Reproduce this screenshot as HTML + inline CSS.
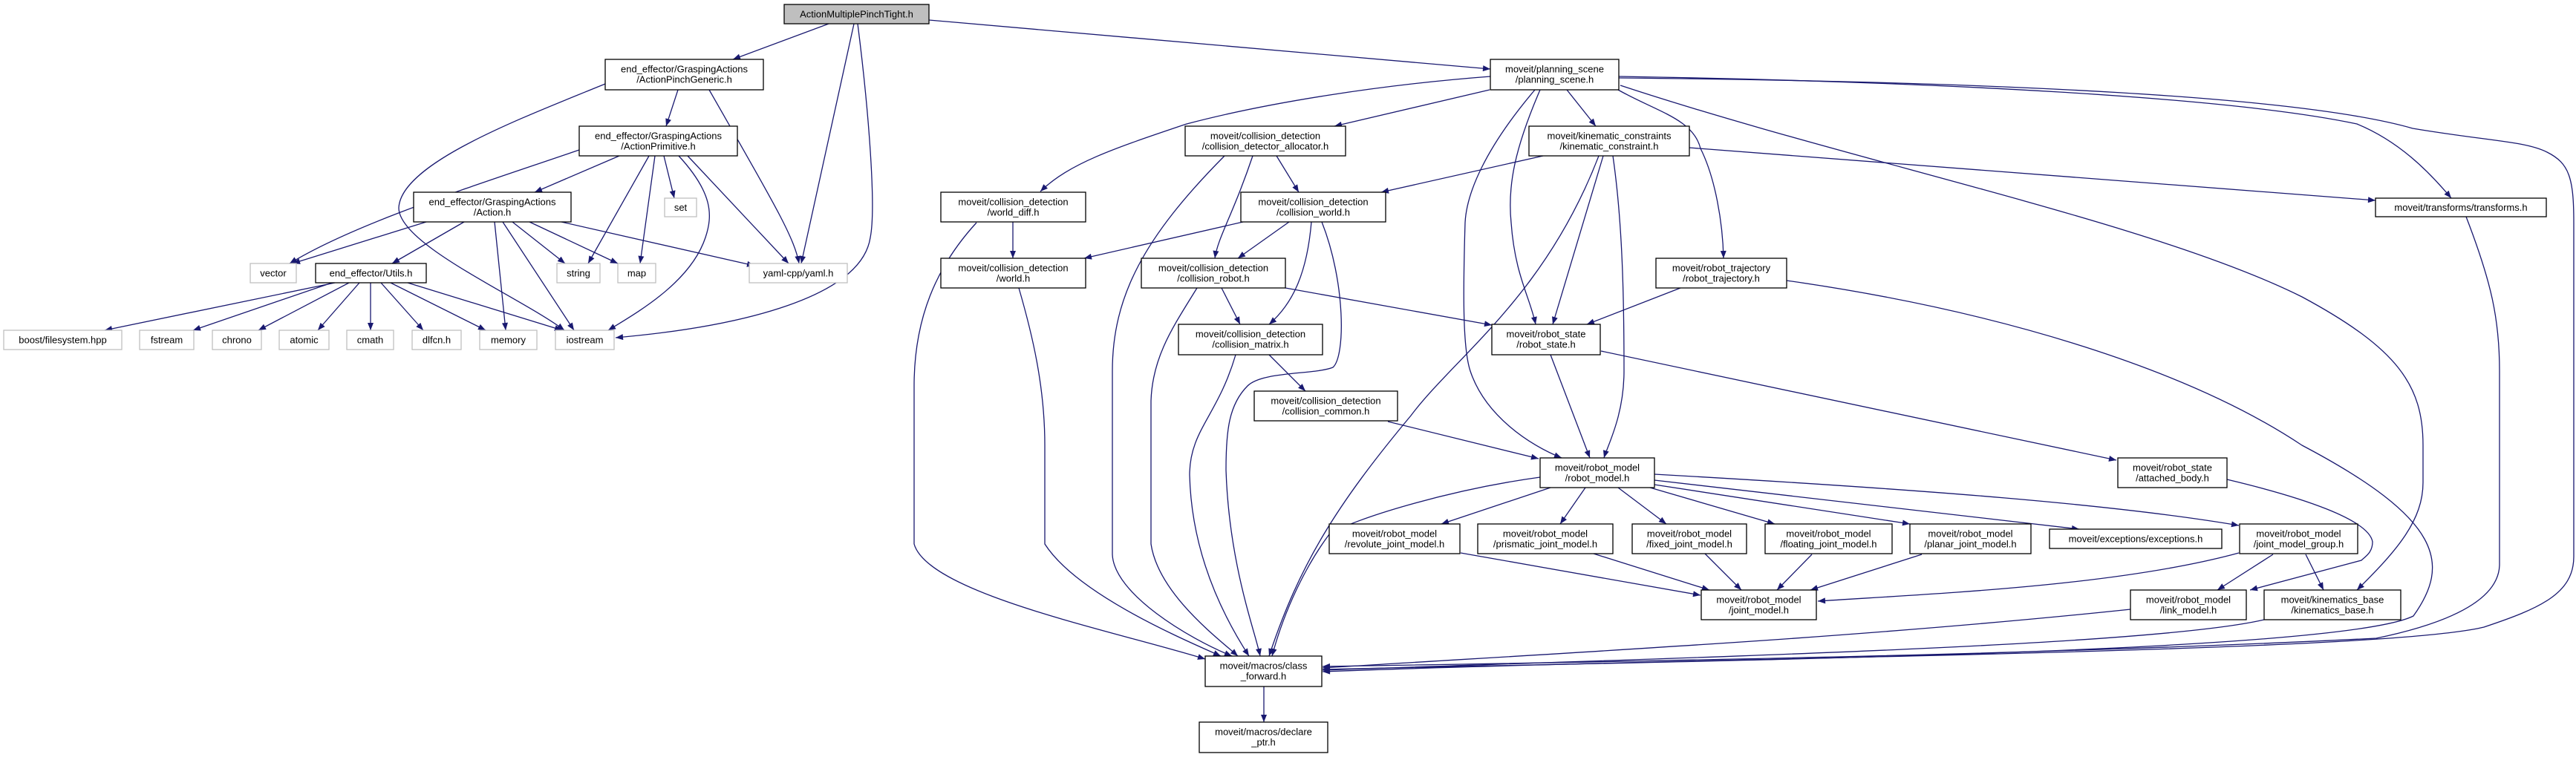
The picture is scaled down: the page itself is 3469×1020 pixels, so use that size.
<!DOCTYPE html>
<html><head><meta charset="utf-8"><style>
html,body{margin:0;padding:0;background:#fff;}
svg{display:block;}
text{font-family:"Liberation Sans",sans-serif;font-size:13px;fill:#000;text-anchor:middle;}
.e{fill:none;stroke:#191970;stroke-width:1.3;marker-end:url(#a);}
.n{fill:#fff;stroke:#000;stroke-width:1.3;}
.g{fill:#fff;stroke:#bfbfbf;stroke-width:1.3;}
</style></head><body>
<svg width="3469" height="1020" viewBox="0 0 3469 1020" xmlns="http://www.w3.org/2000/svg">
<defs><marker id="a" viewBox="0 0 10 8" refX="10" refY="4" markerWidth="11" markerHeight="8" markerUnits="userSpaceOnUse" orient="auto"><path d="M0,0 L10,4 L0,8 z" fill="#191970"/></marker></defs>

<!-- edges -->
<path class="e" d="M1116,32 L987,80"/>
<path class="e" d="M1150,32 L1079,355"/>
<path class="e" d="M1155,32 C1170,150 1180,280 1172,320 C1160,400 1000,440 829,455"/>
<path class="e" d="M1251,27 L2007,93"/>
<path class="e" d="M913,121 L897,170"/>
<path class="e" d="M955,121 C1040,270 1070,320 1076,355"/>
<path class="e" d="M815,113 C700,160 540,220 537,280 C537,330 700,400 760,445"/>
<path class="e" d="M834,210 L720,259"/>
<path class="e" d="M780,202 C640,250 480,300 390,355"/>
<path class="e" d="M874,210 L792,355"/>
<path class="e" d="M882,210 L862,355"/>
<path class="e" d="M894,210 L908,267"/>
<path class="e" d="M914,210 C960,260 960,290 950,320 C930,380 860,420 819,445"/>
<path class="e" d="M926,210 L1062,355"/>
<path class="e" d="M574,299 L394,355"/>
<path class="e" d="M625,299 L528,355"/>
<path class="e" d="M666,299 L681,445"/>
<path class="e" d="M677,299 L773,445"/>
<path class="e" d="M690,299 L761,355"/>
<path class="e" d="M713,299 L832,355"/>
<path class="e" d="M756,299 L1016,358"/>
<path class="e" d="M451,381 L141,445"/>
<path class="e" d="M447,381 L260,445"/>
<path class="e" d="M470,381 L348,445"/>
<path class="e" d="M484,381 L428,445"/>
<path class="e" d="M499,381 L499,445"/>
<path class="e" d="M513,381 L570,445"/>
<path class="e" d="M526,381 L654,445"/>
<path class="e" d="M549,381 L757,445"/>

<path class="e" d="M2006,121 L1797,170"/>
<path class="e" d="M2007,103 C1850,115 1700,140 1598,167 C1500,200 1440,220 1401,258"/>
<path class="e" d="M2110,121 L2149,170"/>
<path class="e" d="M2074,121 C2040,200 2030,250 2035,300 C2040,370 2060,400 2068,437"/>
<path class="e" d="M2067,121 C2000,200 1975,260 1973,300 C1970,400 1970,470 1980,500 C2000,560 2060,600 2103,617"/>
<path class="e" d="M2179,121 C2230,150 2280,160 2290,200 C2310,240 2320,300 2321,348"/>
<path class="e" d="M2182,115 C2500,220 2900,300 3100,400 C3230,470 3263,520 3263,600 L3263,650 C3263,700 3230,740 3174,795"/>
<path class="e" d="M2180,103 C2600,110 3000,130 3174,167 C3230,190 3270,230 3301,267"/>
<path class="e" d="M2180,105 C2700,110 3100,130 3249,173 C3350,190 3400,190 3430,205 C3460,220 3466,240 3466,300 L3466,750 C3466,800 3420,820 3345,845 C3200,880 2300,885 1781,905"/>
<path class="e" d="M1719,210 L1749,259"/>
<path class="e" d="M1687,210 C1660,290 1640,320 1636,348"/>
<path class="e" d="M1649,210 C1540,320 1498,400 1498,500 L1498,747 C1500,800 1600,860 1659,884"/>
<path class="e" d="M2078,210 L1860,259"/>
<path class="e" d="M2159,210 L2091,437"/>
<path class="e" d="M2153,210 C2080,400 1960,480 1900,560 C1800,680 1750,760 1709,884"/>
<path class="e" d="M2172,210 C2185,300 2187,400 2187,500 C2187,560 2165,600 2160,617"/>
<path class="e" d="M2275,199 L3199,270"/>
<path class="e" d="M1364,299 L1364,348"/>
<path class="e" d="M1315,300 C1260,360 1231,430 1231,520 L1231,733 C1250,800 1500,850 1623,888"/>
<path class="e" d="M1674,299 L1460,348"/>
<path class="e" d="M1736,299 L1667,348"/>
<path class="e" d="M1766,299 C1760,370 1740,410 1709,437"/>
<path class="e" d="M1780,299 C1812,380 1812,480 1795,495 C1770,505 1700,500 1680,520 C1655,545 1651,580 1651,633 C1655,760 1690,850 1697,884"/>
<path class="e" d="M1645,388 L1670,437"/>
<path class="e" d="M1731,388 L2009,438"/>
<path class="e" d="M1612,388 C1580,440 1552,480 1550,540 L1550,733 C1560,800 1640,860 1667,884"/>
<path class="e" d="M1372,388 C1390,450 1407,520 1407,600 L1407,733 C1450,800 1590,860 1644,884"/>
<path class="e" d="M1709,478 L1758,527"/>
<path class="e" d="M1664,478 C1640,560 1602,580 1602,640 C1605,760 1660,850 1682,884"/>
<path class="e" d="M2263,388 L2137,437"/>
<path class="e" d="M2406,378 C2700,420 2950,500 3100,600 C3290,700 3300,760 3250,830 C3150,880 2300,890 1781,902"/>
<path class="e" d="M3321,292 C3355,380 3366,430 3366,500 L3366,760 C3366,800 3320,835 3200,860 C2800,880 2300,890 1781,898"/>
<path class="e" d="M2088,478 L2141,617"/>
<path class="e" d="M2156,473 L2850,620"/>
<path class="e" d="M1869,568 L2072,618"/>
<path class="e" d="M2074,643 C1950,660 1820,700 1790,720 C1760,760 1730,820 1713,884"/>
<path class="e" d="M2088,657 L1941,706"/>
<path class="e" d="M2135,657 L2101,706"/>
<path class="e" d="M2179,657 L2244,706"/>
<path class="e" d="M2222,657 L2390,706"/>
<path class="e" d="M2228,653 L2572,706"/>
<path class="e" d="M2228,647 L2800,713"/>
<path class="e" d="M2228,639 C2600,660 2850,680 3015,708"/>
<path class="e" d="M1967,745 L2290,802"/>
<path class="e" d="M2146,746 L2302,795"/>
<path class="e" d="M2296,746 L2345,795"/>
<path class="e" d="M2440,747 L2393,795"/>
<path class="e" d="M2588,747 L2438,795"/>
<path class="e" d="M3015,745 C2850,790 2600,800 2448,810"/>
<path class="e" d="M3061,747 L2986,795"/>
<path class="e" d="M3105,747 L3129,795"/>
<path class="e" d="M2999,646 C3100,670 3190,700 3195,730 C3195,745 3185,750 3180,755 L3030,795"/>
<path class="e" d="M2869,821 C2500,860 2100,880 1781,900"/>
<path class="e" d="M3049,835 C2900,870 2300,885 1781,903"/>
<path class="e" d="M1702,925 L1702,973"/>

<!-- nodes -->
<rect x="1056" y="6" width="195" height="26" fill="#bfbfbf" stroke="#000" stroke-width="1.3"/><text x="1153.5" y="23.5">ActionMultiplePinchTight.h</text>

<rect class="n" x="815" y="80" width="213" height="41"/><text x="921.5" y="97.5">end_effector/GraspingActions</text><text x="921.5" y="111.5">/ActionPinchGeneric.h</text>
<rect class="n" x="780" y="170" width="213" height="40"/><text x="886.5" y="187.5">end_effector/GraspingActions</text><text x="886.5" y="201.5">/ActionPrimitive.h</text>
<rect class="n" x="557" y="259" width="212" height="40"/><text x="663" y="276.5">end_effector/GraspingActions</text><text x="663" y="290.5">/Action.h</text>
<rect class="g" x="337" y="355" width="62" height="26"/><text x="368" y="372.5">vector</text>
<rect class="n" x="425" y="355" width="149" height="26"/><text x="499.5" y="372.5">end_effector/Utils.h</text>
<rect class="g" x="750" y="355" width="58" height="26"/><text x="779" y="372.5">string</text>
<rect class="g" x="832" y="355" width="51" height="26"/><text x="857.5" y="372.5">map</text>
<rect class="g" x="1009" y="355" width="132" height="26"/><text x="1075" y="372.5">yaml-cpp/yaml.h</text>
<rect class="g" x="895" y="267" width="43" height="25"/><text x="916.5" y="284">set</text>
<rect class="g" x="5" y="445" width="159" height="26"/><text x="84.5" y="462.5">boost/filesystem.hpp</text>
<rect class="g" x="188" y="445" width="73" height="26"/><text x="224.5" y="462.5">fstream</text>
<rect class="g" x="286" y="445" width="66" height="26"/><text x="319" y="462.5">chrono</text>
<rect class="g" x="376" y="445" width="67" height="26"/><text x="409.5" y="462.5">atomic</text>
<rect class="g" x="467" y="445" width="63" height="26"/><text x="498.5" y="462.5">cmath</text>
<rect class="g" x="555" y="445" width="66" height="26"/><text x="588" y="462.5">dlfcn.h</text>
<rect class="g" x="646" y="445" width="77" height="26"/><text x="684.5" y="462.5">memory</text>
<rect class="g" x="748" y="445" width="79" height="26"/><text x="787.5" y="462.5">iostream</text>

<rect class="n" x="2007" y="80" width="173" height="41"/><text x="2093.5" y="97.5">moveit/planning_scene</text><text x="2093.5" y="111.5">/planning_scene.h</text>
<rect class="n" x="1596" y="170" width="216" height="40"/><text x="1704" y="187.5">moveit/collision_detection</text><text x="1704" y="201.5">/collision_detector_allocator.h</text>
<rect class="n" x="2059" y="170" width="216" height="40"/><text x="2167" y="187.5">moveit/kinematic_constraints</text><text x="2167" y="201.5">/kinematic_constraint.h</text>
<rect class="n" x="1267" y="259" width="195" height="40"/><text x="1364.5" y="276.5">moveit/collision_detection</text><text x="1364.5" y="290.5">/world_diff.h</text>
<rect class="n" x="1671" y="259" width="195" height="40"/><text x="1768.5" y="276.5">moveit/collision_detection</text><text x="1768.5" y="290.5">/collision_world.h</text>
<rect class="n" x="1267" y="348" width="195" height="40"/><text x="1364.5" y="365.5">moveit/collision_detection</text><text x="1364.5" y="379.5">/world.h</text>
<rect class="n" x="1537" y="348" width="194" height="40"/><text x="1634" y="365.5">moveit/collision_detection</text><text x="1634" y="379.5">/collision_robot.h</text>
<rect class="n" x="2230" y="348" width="176" height="40"/><text x="2318" y="365.5">moveit/robot_trajectory</text><text x="2318" y="379.5">/robot_trajectory.h</text>
<rect class="n" x="1587" y="437" width="194" height="41"/><text x="1684" y="454.5">moveit/collision_detection</text><text x="1684" y="468.5">/collision_matrix.h</text>
<rect class="n" x="2009" y="437" width="146" height="41"/><text x="2082" y="454.5">moveit/robot_state</text><text x="2082" y="468.5">/robot_state.h</text>
<rect class="n" x="3199" y="267" width="230" height="25"/><text x="3314" y="284">moveit/transforms/transforms.h</text>
<rect class="n" x="1689" y="527" width="193" height="40"/><text x="1785.5" y="544.5">moveit/collision_detection</text><text x="1785.5" y="558.5">/collision_common.h</text>
<rect class="n" x="2074" y="617" width="154" height="40"/><text x="2151" y="634.5">moveit/robot_model</text><text x="2151" y="648.5">/robot_model.h</text>
<rect class="n" x="2852" y="617" width="147" height="40"/><text x="2925.5" y="634.5">moveit/robot_state</text><text x="2925.5" y="648.5">/attached_body.h</text>
<rect class="n" x="1790" y="706" width="176" height="40"/><text x="1878" y="723.5">moveit/robot_model</text><text x="1878" y="737.5">/revolute_joint_model.h</text>
<rect class="n" x="1990" y="706" width="182" height="40"/><text x="2081" y="723.5">moveit/robot_model</text><text x="2081" y="737.5">/prismatic_joint_model.h</text>
<rect class="n" x="2198" y="706" width="154" height="40"/><text x="2275" y="723.5">moveit/robot_model</text><text x="2275" y="737.5">/fixed_joint_model.h</text>
<rect class="n" x="2377" y="706" width="171" height="40"/><text x="2462.5" y="723.5">moveit/robot_model</text><text x="2462.5" y="737.5">/floating_joint_model.h</text>
<rect class="n" x="2572" y="706" width="163" height="40"/><text x="2653.5" y="723.5">moveit/robot_model</text><text x="2653.5" y="737.5">/planar_joint_model.h</text>
<rect class="n" x="2760" y="713" width="232" height="26"/><text x="2876" y="730.5">moveit/exceptions/exceptions.h</text>
<rect class="n" x="3016" y="706" width="159" height="40"/><text x="3095.5" y="723.5">moveit/robot_model</text><text x="3095.5" y="737.5">/joint_model_group.h</text>
<rect class="n" x="2291" y="795" width="155" height="40"/><text x="2368.5" y="812.5">moveit/robot_model</text><text x="2368.5" y="826.5">/joint_model.h</text>
<rect class="n" x="2869" y="795" width="156" height="40"/><text x="2947" y="812.5">moveit/robot_model</text><text x="2947" y="826.5">/link_model.h</text>
<rect class="n" x="3049" y="795" width="184" height="40"/><text x="3141" y="812.5">moveit/kinematics_base</text><text x="3141" y="826.5">/kinematics_base.h</text>
<rect class="n" x="1623" y="884" width="157" height="41"/><text x="1701.5" y="901.5">moveit/macros/class</text><text x="1701.5" y="915.5">_forward.h</text>
<rect class="n" x="1615" y="973" width="173" height="41"/><text x="1701.5" y="990.5">moveit/macros/declare</text><text x="1701.5" y="1004.5">_ptr.h</text>
</svg>
</body></html>
